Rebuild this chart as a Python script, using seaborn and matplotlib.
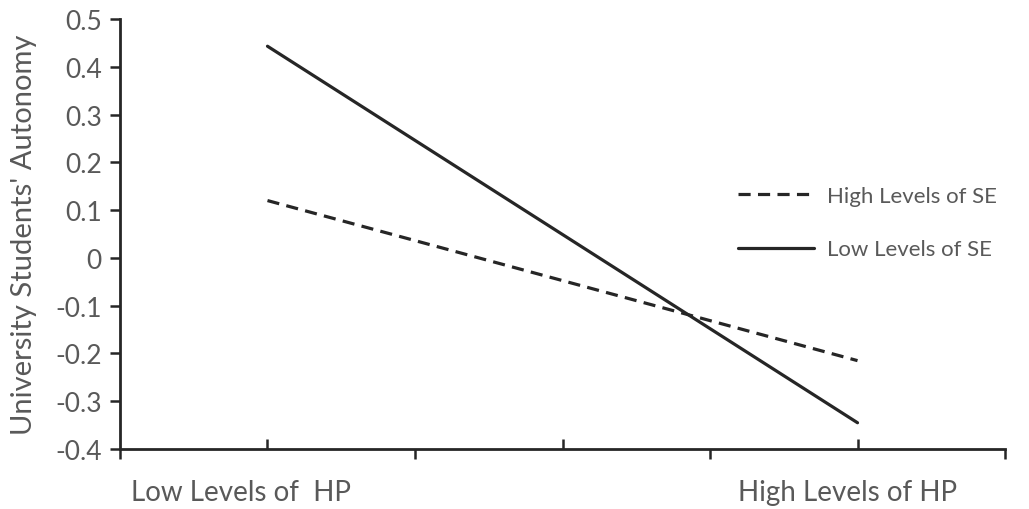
import matplotlib
matplotlib.use("Agg")
import matplotlib.pyplot as plt
import seaborn as sns
import pandas as pd
from matplotlib.lines import Line2D

categories = ["Low Levels of  HP", "High Levels of HP"]
cat_pos = [1, 5]
high_se = [0.12, -0.215]
low_se = [0.443, -0.345]
series_names = ["High Levels of SE", "Low Levels of SE"]
yticks = [0.5, 0.4, 0.3, 0.2, 0.1, 0, -0.1, -0.2, -0.3, -0.4]

df = pd.DataFrame({
    "x": cat_pos + cat_pos,
    "y": high_se + low_se,
    "series": [series_names[0]] * 2 + [series_names[1]] * 2,
})

sns.set_theme(style="white")
plt.rcParams["font.family"] = ["Lato", "DejaVu Sans"]

fig = plt.figure(figsize=(10.29, 5.10), dpi=100)
ax = fig.add_axes([0.1166, 0.1176, 0.8601, 0.8432])

dash = (3.8, 2.3)
sns.lineplot(data=df, x="x", y="y", style="series", hue="series",
             palette={series_names[0]: "#262626", series_names[1]: "#262626"},
             dashes={series_names[0]: dash, series_names[1]: ""},
             linewidth=2.3, ax=ax, legend=False)

ax.set_xlim(0, 6)
ax.set_ylim(-0.4, 0.5)

grey = "#595959"
ax.set_yticks(yticks)
ax.set_yticklabels(["0" if v == 0 else f"{v:.1f}" for v in yticks], color=grey, fontsize=19)
ax.tick_params(axis="y", direction="out", length=7, width=1.8, color="#262626", left=True, pad=6)

# x ticks: outward at even positions, inward at odd positions
ax.set_xticks([0, 2, 4, 6])
ax.set_xticklabels([])
ax.tick_params(axis="x", direction="out", length=7, width=1.8, color="#262626", bottom=True)
ax.set_xticks([1, 3, 5], minor=True)
ax.tick_params(axis="x", which="minor", direction="in", length=7, width=1.8, color="#262626", bottom=True)

for s in ["top", "right"]:
    ax.spines[s].set_visible(False)
for s in ["left", "bottom"]:
    ax.spines[s].set_color("#262626")
    ax.spines[s].set_linewidth(2)

ax.set_xlabel("")
ax.set_ylabel("University Students' Autonomy", color=grey, fontsize=21, labelpad=13)

label_offsets = [-0.18, -0.07]
for pos, lab, off in zip(cat_pos, categories, label_offsets):
    ax.text(pos + off, -0.1, lab, transform=ax.get_xaxis_transform(),
            ha="center", va="center", color=grey, fontsize=20)

handles = [Line2D([], [], color="#262626", lw=2.3, dashes=dash),
           Line2D([], [], color="#262626", lw=2.3)]
leg = ax.legend(handles, series_names, loc="center left", bbox_to_anchor=(0.676, 0.526),
                frameon=False, fontsize=16, handlelength=3.4, labelspacing=1.5,
                handletextpad=0.6)
for t in leg.get_texts():
    t.set_color(grey)

fig.savefig("out.png", dpi=100)
